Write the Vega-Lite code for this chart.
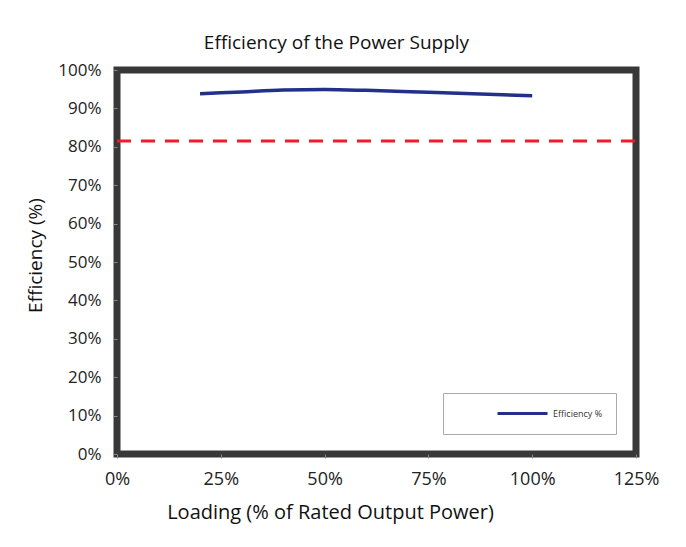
{
  "$schema": "https://vega.github.io/schema/vega-lite/v6.json",
  "width": 519,
  "height": 384,
  "autosize": "none",
  "padding": {"left": 117, "top": 70, "right": 50, "bottom": 93},
  "background": "white",
  "title": {
    "text": "Efficiency of the Power Supply",
    "font": "Open Sans",
    "fontSize": 19,
    "fontWeight": "normal",
    "color": "#111",
    "dx": -40,
    "offset": 8
  },
  "config": {
    "view": {"stroke": "#383838", "strokeWidth": 7},
    "font": "Open Sans"
  },
  "datasets": {
    "eff": [
      {"load": 0.20, "eff": 0.938, "series": "Efficiency %"},
      {"load": 0.30, "eff": 0.943, "series": "Efficiency %"},
      {"load": 0.40, "eff": 0.948, "series": "Efficiency %"},
      {"load": 0.50, "eff": 0.949, "series": "Efficiency %"},
      {"load": 0.60, "eff": 0.947, "series": "Efficiency %"},
      {"load": 0.75, "eff": 0.942, "series": "Efficiency %"},
      {"load": 1.00, "eff": 0.933, "series": "Efficiency %"}
    ],
    "limit": [
      {"load": 0.0, "eff": 0.815},
      {"load": 1.25, "eff": 0.815}
    ]
  },
  "encoding": {
    "x": {
      "field": "load", "type": "quantitative",
      "scale": {"domain": [0, 1.25], "nice": false, "zero": true},
      "axis": {
        "values": [0, 0.25, 0.5, 0.75, 1, 1.25],
        "format": ".0%",
        "grid": false,
        "domain": false,
        "tickColor": "#888",
        "tickSize": 4,
        "labelFlush": false,
        "labelOverlap": false,
        "labelFontSize": 18,
        "labelColor": "#222",
        "labelPadding": 12,
        "title": "Loading (% of Rated Output Power)",
        "titleFontSize": 20,
        "titleFontWeight": "normal",
        "titleColor": "#111",
        "titleX": 213,
        "titleY": 58,
        "titleBaseline": "middle"
      }
    },
    "y": {
      "field": "eff", "type": "quantitative",
      "scale": {"domain": [0, 1], "nice": false},
      "axis": {
        "values": [0, 0.1, 0.2, 0.3, 0.4, 0.5, 0.6, 0.7, 0.8, 0.9, 1],
        "format": ".0%",
        "grid": false,
        "domain": false,
        "tickColor": "#888",
        "tickSize": 4,
        "labelFlush": false,
        "labelOverlap": false,
        "labelFontSize": 17,
        "labelColor": "#222",
        "labelPadding": 12,
        "title": "Efficiency (%)",
        "titleFontSize": 19,
        "titleFontWeight": "normal",
        "titleColor": "#111",
        "titleX": -82,
        "titleY": 185,
        "titleAngle": -90,
        "titleBaseline": "middle"
      }
    }
  },
  "layer": [
    {
      "data": {"name": "limit"},
      "mark": {"type": "line", "color": "#ee1c2a", "strokeWidth": 3, "strokeDash": [14, 10]}
    },
    {
      "data": {"name": "eff"},
      "mark": {"type": "line", "strokeWidth": 3.5, "interpolate": "monotone"},
      "encoding": {
        "color": {
          "field": "series", "type": "nominal",
          "scale": {"range": ["#22308a"]},
          "legend": {
            "title": null,
            "orient": "bottom-right",
            "offset": 20,
            "padding": 13,
            "clipHeight": 15,
            "symbolOffset": 40,
            "strokeColor": "#aaa",
            "fillColor": "white",
            "symbolType": "stroke",
            "symbolSize": 2500,
            "symbolStrokeWidth": 3,
            "labelFontSize": 9,
            "labelColor": "#333"
          }
        }
      }
    }
  ]
}
